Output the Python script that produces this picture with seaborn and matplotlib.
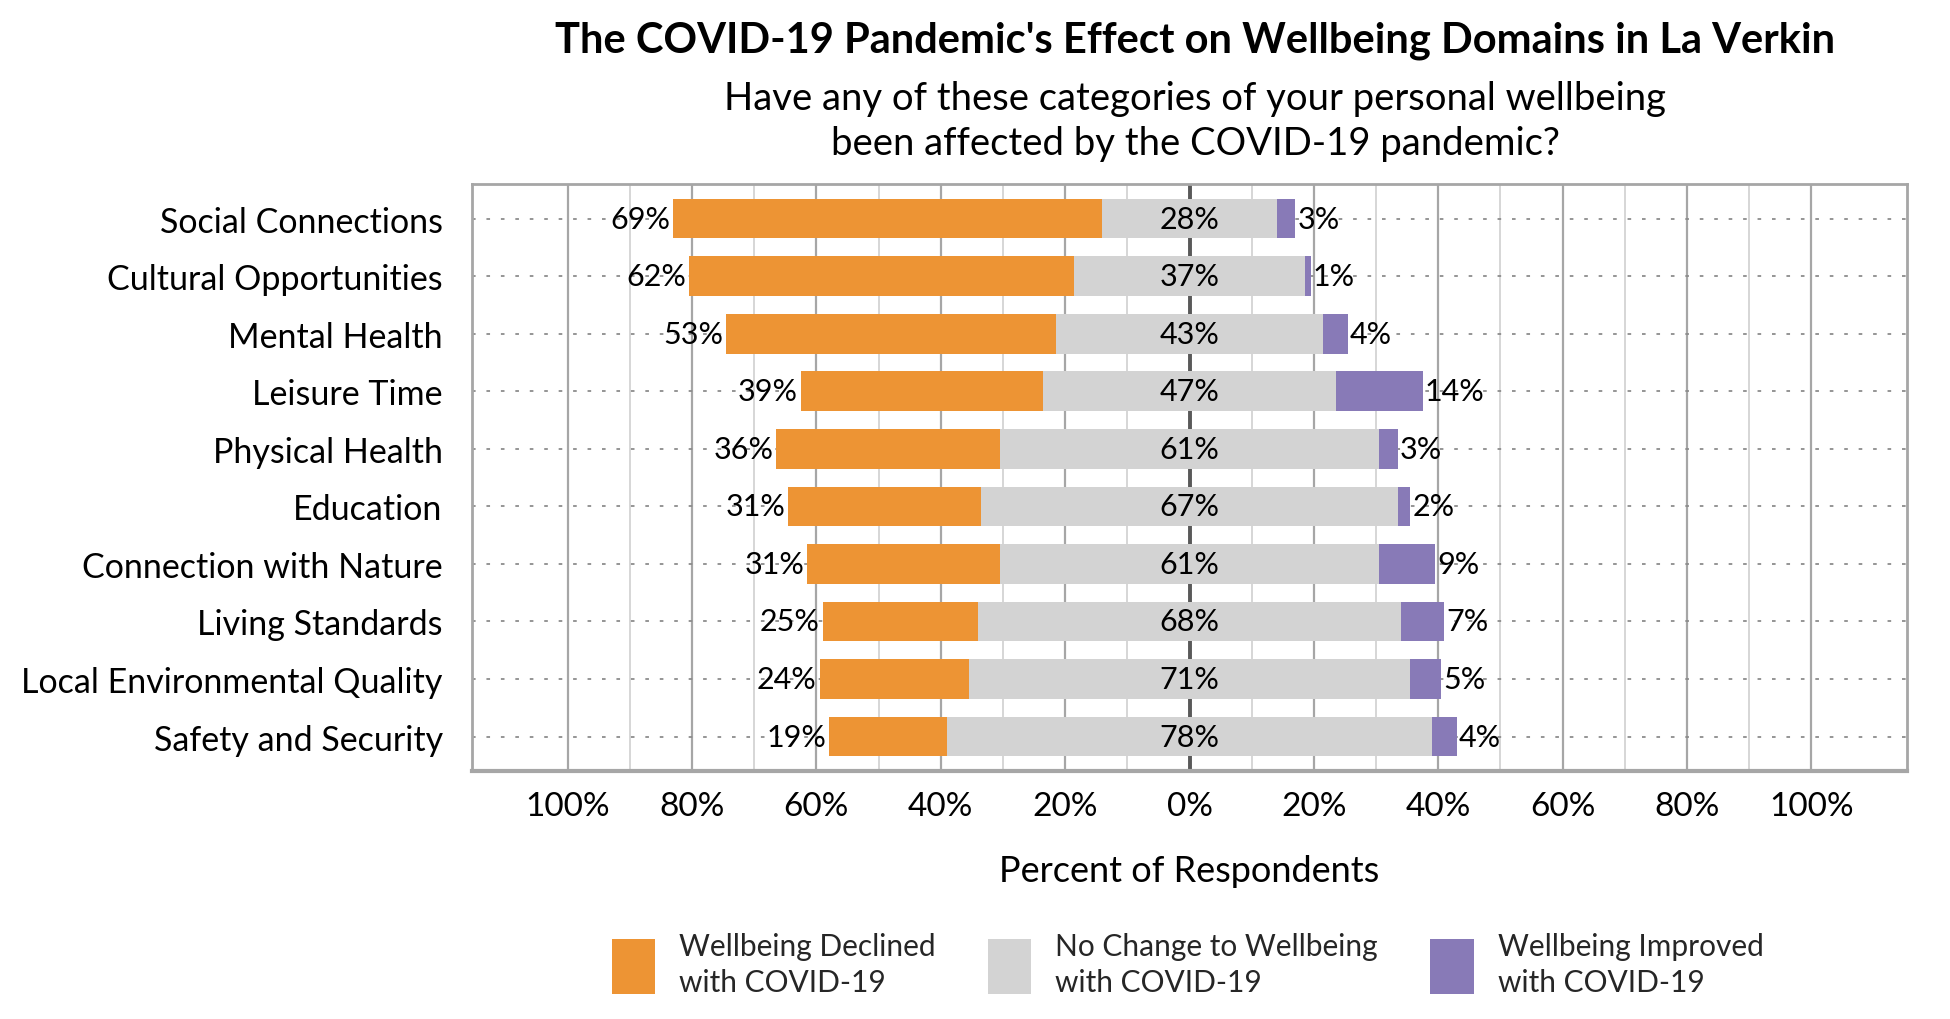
import matplotlib
matplotlib.use('Agg')
import matplotlib.pyplot as plt
import seaborn as sns
import numpy as np
from matplotlib.patches import Patch
from matplotlib.ticker import FixedLocator, FuncFormatter

# ---- data ----
categories = ["Social Connections", "Cultural Opportunities", "Mental Health",
              "Leisure Time", "Physical Health", "Education",
              "Connection with Nature", "Living Standards",
              "Local Environmental Quality", "Safety and Security"]
declined = [69, 62, 53, 39, 36, 31, 31, 25, 24, 19]
no_change = [28, 37, 43, 47, 61, 67, 61, 68, 71, 78]
improved = [3, 1, 4, 14, 3, 2, 9, 7, 5, 4]

title = "The COVID-19 Pandemic's Effect on Wellbeing Domains in La Verkin"
subtitle_lines = ["Have any of these categories of your personal wellbeing",
                  "been affected by the COVID-19 pandemic?"]
xlabel = "Percent of Respondents"
legend_labels = ["Wellbeing Declined\nwith COVID-19",
                 "No Change to Wellbeing\nwith COVID-19",
                 "Wellbeing Improved\nwith COVID-19"]
major_ticks = [-100, -80, -60, -40, -20, 0, 20, 40, 60, 80, 100]
minor_ticks = [-90, -70, -50, -30, -10, 10, 30, 50, 70, 90]

ORANGE = "#ED9434"
GRAY = "#D3D3D3"
PURPLE = "#887AB7"

sns.set_theme(style="white")
plt.rcParams['font.family'] = ['Lato', 'DejaVu Sans']

fig = plt.figure(figsize=(19.5, 10.2), dpi=100)
ax = fig.add_axes([0.242, 0.243, 0.736, 0.5756])

half = np.array(no_change) / 2.0
left_outer = -(half + np.array(declined))
right_outer = half + np.array(improved)

common = dict(y=categories, orient="h", saturation=1, width=0.69,
              errorbar=None, linewidth=0, edgecolor="none", ax=ax)
sns.barplot(x=left_outer, color=ORANGE, **common)
sns.barplot(x=right_outer, color=PURPLE, **common)
sns.barplot(x=-half, color=GRAY, **common)
sns.barplot(x=half, color=GRAY, **common)

lab_fs = 22
ax.bar_label(ax.containers[0], labels=[f"{v}%" for v in declined],
             padding=2, fontsize=lab_fs, color="black")
ax.bar_label(ax.containers[1], labels=[f"{v}%" for v in improved],
             padding=1.5, fontsize=lab_fs, color="black")
for i, v in enumerate(no_change):
    ax.text(0, i, f"{v}%", ha="center", va="center", fontsize=lab_fs, color="black")

ax.set_xlim(-115.4, 115.4)
ax.set_ylim(9.6, -0.6)

ax.xaxis.set_major_locator(FixedLocator(major_ticks))
ax.xaxis.set_minor_locator(FixedLocator(minor_ticks))
ax.xaxis.set_major_formatter(FuncFormatter(lambda v, p: f"{abs(v):.0f}%"))
ax.set_axisbelow(True)
ax.grid(which="major", axis="x", color="#A6A6A6", linewidth=1.6)
ax.grid(which="minor", axis="x", color="#D0D0D0", linewidth=1.2)
ax.grid(which="major", axis="y", color="#8C8C8C", linewidth=1.3, linestyle=(0, (2, 6)))
ax.axvline(0, color="#595959", linewidth=2.8, zorder=0.6)

ax.tick_params(axis="x", which="both", length=0, pad=14, labelsize=24)
ax.tick_params(axis="y", length=0, pad=21, labelsize=24.5)
for lbl in ax.get_yticklabels():
    lbl.set_color("black")
for lbl in ax.get_xticklabels():
    lbl.set_color("black")

for side, sp in ax.spines.items():
    sp.set_visible(True)
    sp.set_color("#A6A6A6")
    sp.set_linewidth(2.0)
ax.spines["bottom"].set_linewidth(3.0)

ax.set_ylabel("")
ax.set_xlabel(xlabel, fontsize=26, color="black", va="center")
ax.xaxis.set_label_coords(0.5, -0.17)

fig.text(0.613, 0.9485, title, ha="center", va="baseline", fontsize=30,
         fontweight="bold", color="black")
fig.text(0.613, 0.8922, subtitle_lines[0], ha="center", va="baseline",
         fontsize=27.5, color="black")
fig.text(0.613, 0.848, subtitle_lines[1], ha="center", va="baseline",
         fontsize=27.5, color="black")

handles = [Patch(facecolor=c, edgecolor="none") for c in (ORANGE, GRAY, PURPLE)]
leg = fig.legend(handles, legend_labels, loc="center", bbox_to_anchor=(0.609, 0.054),
                 ncol=3, frameon=False, fontsize=21.5, handlelength=1.46,
                 handleheight=2.48, handletextpad=0.8, columnspacing=1.75)
for t in leg.get_texts():
    t.set_linespacing(1.35)

fig.savefig("out.png", dpi=100)
